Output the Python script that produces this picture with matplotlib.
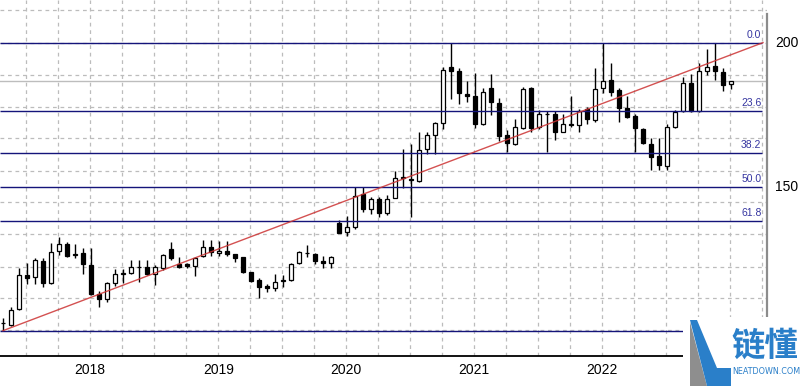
import numpy as np
import matplotlib.pyplot as plt
from matplotlib.patches import Polygon, Rectangle

# candle prices (one candle per bar, left to right)
opens = [102.5, 101.9, 107.4, 119.3, 118.6, 124.2, 116.7, 127.7, 130.0, 126.4,
         126.9, 122.8, 112.7, 111.0, 116.5, 119.8, 119.9, 122.0, 122.0, 119.6,
         121.9, 128.4, 123.2, 123.0, 122.6, 126.0, 129.2, 126.9, 127.8, 126.6,
         125.4, 120.3, 117.6, 115.6, 114.7, 117.2, 117.6, 123.4, 127.1, 126.6,
         124.2, 123.4, 137.5, 134.2, 135.9, 147.5, 142.2, 145.7, 140.8, 146.2,
         153.1, 152.3, 152.1, 163.0, 168.0, 172.0, 191.5, 190.2, 182.2, 181.5,
         171.7, 184.2, 179.0, 168.0, 164.8, 170.3, 184.4, 170.8, 175.1, 175.1,
         169.1, 171.9, 171.4, 177.0, 173.2, 184.2, 187.0, 183.6, 177.2, 174.5,
         169.9, 164.8, 160.7, 157.3, 170.8, 176.4, 185.9, 176.3, 190.2, 191.9,
         189.7, 185.6]
highs = [104.3, 108.3, 121.7, 123.4, 125.1, 125.1, 130.3, 132.4, 130.9, 130.0,
         128.8, 128.6, 113.8, 117.0, 121.3, 121.3, 124.5, 124.5, 124.5, 122.8,
         126.5, 130.9, 125.5, 123.4, 125.4, 131.5, 131.5, 131.2, 131.2, 126.6,
         125.7, 120.3, 118.2, 116.2, 119.6, 119.3, 123.4, 127.7, 129.8, 127.1,
         126.0, 126.0, 138.4, 139.7, 150.0, 150.0, 146.3, 146.3, 147.1, 155.5,
         163.1, 164.7, 168.8, 169.1, 172.6, 191.7, 200.0, 191.1, 186.7, 189.6,
         184.4, 189.0, 180.9, 169.7, 173.4, 184.7, 184.7, 176.6, 176.3, 176.3,
         175.1, 181.3, 177.0, 177.8, 191.1, 200.0, 192.8, 184.4, 181.3, 175.1,
         170.3, 166.8, 166.8, 171.7, 176.6, 188.0, 189.0, 192.8, 197.8, 200.0,
         191.3, 186.8]
lows = [100.0, 101.5, 107.0, 116.1, 116.1, 115.3, 116.1, 126.3, 125.7, 125.1,
        119.6, 112.4, 108.1, 110.1, 115.5, 116.5, 119.6, 117.0, 119.3, 115.9,
        121.1, 124.5, 121.7, 121.9, 119.1, 125.7, 126.0, 126.0, 126.0, 123.7,
        119.9, 116.8, 111.2, 113.5, 113.9, 115.3, 117.4, 123.2, 125.5, 123.2,
        121.9, 121.9, 134.0, 132.9, 135.2, 141.3, 140.5, 139.4, 140.2, 146.0,
        149.4, 139.6, 151.7, 161.3, 161.3, 169.9, 180.3, 178.6, 179.5, 170.5,
        171.4, 174.9, 165.9, 162.2, 164.5, 169.9, 169.1, 170.0, 161.9, 166.2,
        168.9, 170.8, 169.1, 171.7, 172.6, 182.4, 181.3, 172.6, 174.0, 161.9,
        164.7, 155.8, 155.8, 155.8, 170.5, 176.0, 175.8, 175.8, 188.8, 187.0,
        183.2, 183.8]
closes = [102.6, 107.1, 119.3, 118.4, 124.7, 116.7, 127.2, 130.0, 126.0, 126.5,
          123.1, 112.6, 111.0, 116.5, 119.6, 119.9, 122.0, 122.2, 119.6, 122.0,
          126.3, 125.1, 122.2, 122.4, 125.1, 129.2, 127.2, 127.8, 126.7, 125.1,
          120.5, 117.2, 115.3, 114.7, 116.8, 117.5, 123.2, 127.2, 126.9, 124.3,
          123.4, 125.5, 134.0, 135.9, 146.8, 142.2, 145.6, 141.0, 145.7, 153.1,
          153.3, 152.5, 162.7, 168.0, 172.0, 190.5, 190.2, 182.4, 181.3, 171.7,
          183.0, 179.3, 167.7, 165.1, 170.6, 183.8, 170.3, 175.1, 175.2, 169.1,
          171.7, 171.4, 176.3, 173.4, 183.8, 186.8, 183.0, 177.4, 174.3, 170.3,
          165.1, 160.2, 157.5, 170.8, 175.8, 185.9, 176.3, 190.2, 191.7, 190.2,
          185.3, 186.8]

# fibonacci retracement between the swing low and swing high
fib_low = 100.0
fib_high = 200.0
fib_pcts = [0.0, 23.6, 38.2, 50.0, 61.8, 100.0]

years = ['2018', '2019', '2020', '2021', '2022']
year_pos = [10.9, 26.9, 42.9, 58.9, 74.9]
price_labels = [200, 150]

# grid spacing of the terminal (fixed pixel steps)
vgrid = [2.9 + 4 * k for k in range(24)]
hgrid = [100.3, 111.4, 122.1, 133.6, 144.7, 155.5, 166.9, 177.7, 188.8, 200.0, 211.35]

opens = np.array(opens)
closes = np.array(closes)
highs = np.array(highs)
lows = np.array(lows)
x = np.arange(len(opens))

fig = plt.figure(figsize=(8.02, 3.88), dpi=100)
ax = fig.add_axes([0, 32 / 388, 767 / 802, 356 / 388])
ax.set_xlim(-0.375, 95.5)
ax.set_ylim(91.2, 214.8)

for g in vgrid:
    ax.axvline(g, color='#bcbcbc', lw=0.9, ls=(0, (3, 3)), zorder=0)
for g in hgrid:
    ax.axhline(g, color='#bcbcbc', lw=0.9, ls=(0, (3, 3)), zorder=0)

# current price line
ax.axhline(closes[-1], color='#bdbdbd', lw=1.0, zorder=1)

# candles
ax.vlines(x, lows, highs, color='black', lw=1.0, zorder=3)
up = closes >= opens
bottoms = np.minimum(opens, closes)
heights = np.abs(closes - opens)
ax.bar(x, heights, width=0.62, bottom=bottoms,
       color=np.where(up, 'white', 'black'), edgecolor='black', lw=0.9, zorder=4)

# fibonacci levels
for p in fib_pcts:
    lvl = fib_high - (fib_high - fib_low) * p / 100
    ax.hlines(lvl, -0.375, 94.9, color='#14147a', lw=1.0, zorder=5)
    if p < 100:
        ax.text(94.8, lvl + 0.9, '%.1f' % p, ha='right', va='bottom',
                fontsize=7.5, color='#3535a0', family='Liberation Sans', zorder=6)

# trend line from the low to the top
ax.plot([0, 95], [fib_low, fib_high], color='#cc3333', lw=1.0, alpha=0.85, zorder=6)

for s in ['top', 'left']:
    ax.spines[s].set_visible(False)
ax.spines['bottom'].set_color('black')
ax.spines['bottom'].set_linewidth(1.3)
ax.spines['right'].set_color('#8c8c8c')
ax.spines['right'].set_linewidth(1.6)
ax.spines['right'].set_bounds(91.2, 209.8)
ax.set_yticks([])
ax.set_xticks(year_pos)
ax.set_xticklabels(years, fontsize=10, family='Liberation Sans')
ax.tick_params(axis='x', length=0, pad=5)

for v in price_labels:
    ax.text(1.0105, v, str(v), transform=ax.get_yaxis_transform(), ha='left',
            va='center', fontsize=10, family='Liberation Sans', clip_on=False)


# watermark logo in the lower right corner
def px(xp, yp):
    return (xp / 802, 1 - yp / 388)


fig.add_artist(Rectangle(px(683, 388), 119 / 802, 71 / 388, transform=fig.transFigure,
                         facecolor='white', edgecolor='none', zorder=10))
fig.add_artist(Polygon([px(690, 322), px(707, 386), px(690, 386)], closed=True,
                       transform=fig.transFigure, facecolor='#8e8e8e',
                       edgecolor='none', zorder=11))
fig.add_artist(Polygon([px(690, 320), px(697, 320), px(717, 368), px(731, 368),
                        px(731, 386), px(707, 386)], closed=True,
                       transform=fig.transFigure, facecolor='#2a7fc9',
                       edgecolor='none', zorder=11))
fig.text(765 / 802, 1 - 346 / 388, '链懂', ha='center', va='center', fontsize=24,
         fontweight='bold', color='#2a7fc9', family=['Noto Sans CJK SC', 'DejaVu Sans'],
         zorder=12)
fig.text(766 / 802, 1 - 372 / 388, 'NEATDOWN.COM', ha='center', va='center',
         fontsize=5.8, color='#2a7fc9', family='DejaVu Sans', zorder=12)

fig.savefig('out.png', dpi=100)
